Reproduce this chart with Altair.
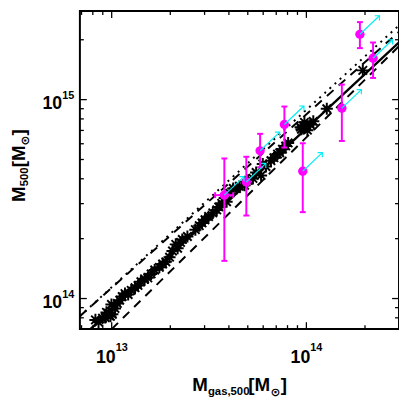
import altair as alt
import pandas as pd

# ---------------- data ----------------
# simulated clusters (black asterisks)
sim_mgas = [8.25e12, 8.56e12, 8.97e12, 9.26e12, 9.40e12, 9.62e12, 9.85e12, 1.008e13, 9.97e12, 1.04e13,
            1.069e13, 1.10e13, 1.132e13, 1.17e13, 1.215e13, 1.26e13, 1.318e13, 1.365e13, 1.413e13, 1.475e13,
            1.533e13, 1.594e13, 1.663e13, 1.757e13, 1.826e13, 1.897e13, 1.982e13, 2.052e13, 2.133e13, 2.181e13,
            2.258e13, 2.305e13, 2.449e13, 2.69e13, 2.817e13, 2.91e13, 3.013e13, 3.146e13, 3.307e13, 3.465e13,
            3.545e13, 3.673e13, 3.804e13, 3.893e13, 4.032e13, 4.21e13, 4.374e13, 4.53e13, 4.817e13, 5.03e13,
            5.313e13, 5.52e13, 5.852e13, 5.97e13, 6.20e13, 6.574e13, 6.81e13, 7.108e13, 7.30e13, 7.534e13,
            7.83e13, 8.06e13, 9.33e13, 9.43e13, 9.77e13, 9.885e13, 1.012e14, 1.047e14, 1.085e14, 1.273e14,
            1.949e14]
sim_m500 = [7.81e13, 7.61e13, 7.96e13, 8.03e13, 8.52e13, 8.43e13, 8.15e13, 8.33e13, 9.34e13, 8.92e13,
            9.45e13, 9.81e13, 1.023e14, 1.059e14, 1.047e14, 1.10e14, 1.134e14, 1.164e14, 1.214e14, 1.256e14,
            1.27e14, 1.33e14, 1.392e14, 1.435e14, 1.491e14, 1.53e14, 1.614e14, 1.734e14, 1.872e14, 1.788e14,
            1.915e14, 1.982e14, 2.051e14, 2.22e14, 2.325e14, 2.40e14, 2.489e14, 2.584e14, 2.696e14, 2.79e14,
            2.887e14, 3.011e14, 3.199e14, 3.066e14, 3.386e14, 3.573e14, 3.573e14, 3.667e14, 3.71e14, 3.928e14,
            4.018e14, 4.302e14, 4.157e14, 4.75e14, 4.607e14, 4.933e14, 5.105e14, 5.324e14, 5.404e14, 5.636e14,
            5.852e14, 6.056e14, 7.27e14, 7.10e14, 7.69e14, 7.35e14, 7.02e14, 7.495e14, 7.78e14, 8.995e14,
            1.403e15]

# observed clusters (magenta) with errors and cyan arrows
obs_mgas = [3.79e13, 4.915e13, 5.785e13, 7.71e13, 9.58e13, 1.521e14, 1.883e14, 2.2e14]
obs_m500 = [3.31e14, 3.852e14, 5.53e14, 7.495e14, 4.366e14, 9.06e14, 2.13e15, 1.614e15]
obs_m500_lo = [1.547e14, 2.614e14, 4.57e14, 5.74e14, 2.718e14, 6.196e14, 1.815e15, 1.285e15]
obs_m500_hi = [5.06e14, 5.16e14, 6.73e14, 9.23e14, 6.035e14, 1.19e15, 2.453e15, 1.937e15]
obs_mgas_lo = [3.398e13]
obs_mgas_hi = [4.21e13]
obs_mgas_err_y = [3.31e14]
arrow_mgas_end = [4.78e13, 6.19e13, 7.29e13, 9.71e13, 1.207e14, 1.916e14, 2.373e14, 2.772e14]
arrow_m500_end = [4.10e14, 4.78e14, 6.86e14, 9.29e14, 5.41e14, 1.123e15, 2.64e15, 2.0e15]

# relations (end points)
solid_x = [7.78e12, 3.013e14]
solid_y = [7.02e13, 1.953e15]
dashlo_x = [1.0e13, 3.013e14]
dashlo_y = [7.02e13, 1.87e15]
dashhi_x = [6.866e12, 3.013e14]
dashhi_y = [8.15e13, 2.208e15]
dot_x = [6.866e12, 3.013e14]
dot_y = [8.15e13, 2.378e15]

# axes
x_domain = [6.866e12, 2.99e14]
y_domain = [7.02e13, 2.79e15]
x_major = [1e13, 1e14]
x_major_exp = ["13", "14"]
x_minor = [7e12, 8e12, 9e12, 2e13, 3e13, 4e13, 5e13, 6e13, 7e13, 8e13, 9e13, 2e14]
y_major = [1e14, 1e15]
y_major_exp = ["14", "15"]
y_minor = [8e13, 9e13, 2e14, 3e14, 4e14, 5e14, 6e14, 7e14, 8e14, 9e14, 2e15]

W, H = 324, 323
FONT = "Liberation Sans"

xs = alt.Scale(type="log", domain=x_domain, nice=False)
ys = alt.Scale(type="log", domain=y_domain, nice=False)

def X(f):
    return alt.X(f, type="quantitative", scale=xs, axis=None)

def Y(f):
    return alt.Y(f, type="quantitative", scale=ys, axis=None)

layers = []

# relation lines
def rel(xv, yv, **kw):
    df = pd.DataFrame({"x": xv, "y": yv})
    return alt.Chart(df).mark_line(clip=True, color="black", **kw).encode(x=X("x"), y=Y("y"))

layers.append(rel(dot_x, dot_y, strokeWidth=2, strokeDash=[2, 5]))
layers.append(rel(dashhi_x, dashhi_y, strokeWidth=2, strokeDash=[9, 7]))
layers.append(rel(dashlo_x, dashlo_y, strokeWidth=2, strokeDash=[9, 7]))
layers.append(rel(solid_x, solid_y, strokeWidth=2.5))

# simulated asterisks
sim = pd.DataFrame({"x": sim_mgas, "y": sim_m500})
star = "M -1 0 L 1 0 M 0 -1 L 0 1 M -0.7 -0.7 L 0.7 0.7 M -0.7 0.7 L 0.7 -0.7"
layers.append(alt.Chart(sim).mark_point(shape=star, filled=False, color="black", strokeWidth=2,
                                         size=150, opacity=1, clip=True).encode(x=X("x"), y=Y("y")))

# observed points
obs = pd.DataFrame({"x": obs_mgas, "y": obs_m500, "lo": obs_m500_lo, "hi": obs_m500_hi,
                    "ax": arrow_mgas_end, "ay": arrow_m500_end})
MAG = "#ff00ff"
CYN = "#00eef5"
layers.append(alt.Chart(obs).mark_rule(color=MAG, strokeWidth=2).encode(x=X("x"), y=Y("lo"), y2="hi"))
layers.append(alt.Chart(obs).mark_tick(color=MAG, orient="horizontal", size=6, thickness=2, opacity=1)
              .encode(x=X("x"), y=Y("lo")))
layers.append(alt.Chart(obs).mark_tick(color=MAG, orient="horizontal", size=6, thickness=2, opacity=1)
              .encode(x=X("x"), y=Y("hi")))
xe = pd.DataFrame({"lo": obs_mgas_lo, "hi": obs_mgas_hi, "y": obs_mgas_err_y})
layers.append(alt.Chart(xe).mark_rule(color=MAG, strokeWidth=2).encode(x=X("lo"), x2="hi", y=Y("y")))
layers.append(alt.Chart(xe).mark_tick(color=MAG, orient="vertical", size=6, thickness=2, opacity=1)
              .encode(x=X("lo"), y=Y("y")))
layers.append(alt.Chart(xe).mark_tick(color=MAG, orient="vertical", size=6, thickness=2, opacity=1)
              .encode(x=X("hi"), y=Y("y")))
layers.append(alt.Chart(obs).mark_point(shape="circle", filled=True, color=MAG, size=90, opacity=1)
              .encode(x=X("x"), y=Y("y")))
layers.append(alt.Chart(obs).mark_rule(color=CYN, strokeWidth=1.2).encode(x=X("x"), y=Y("y"), x2="ax", y2="ay"))
layers.append(alt.Chart(obs).mark_point(shape="M -1 1 L 0 0 L 1 1", filled=False, color=CYN, strokeWidth=1.2,
                                         size=45, angle=45, opacity=1).encode(x=X("ax"), y=Y("ay")))

# ticks (inward, all four sides)
def xticks(vals, ln):
    df = pd.DataFrame({"v": vals})
    b = alt.Chart(df).mark_rule(color="black", strokeWidth=1.3).encode(x=X("v"), y=alt.value(H), y2=alt.value(H - ln))
    t = alt.Chart(df).mark_rule(color="black", strokeWidth=1.3).encode(x=X("v"), y=alt.value(0), y2=alt.value(ln))
    return [b, t]

def yticks(vals, ln):
    df = pd.DataFrame({"v": vals})
    l = alt.Chart(df).mark_rule(color="black", strokeWidth=1.3).encode(y=Y("v"), x=alt.value(0), x2=alt.value(ln))
    r = alt.Chart(df).mark_rule(color="black", strokeWidth=1.3).encode(y=Y("v"), x=alt.value(W), x2=alt.value(W - ln))
    return [l, r]

layers += xticks(x_major, 7) + xticks(x_minor, 4) + yticks(y_major, 7) + yticks(y_minor, 4)

# tick labels
xl = pd.DataFrame({"v": x_major, "e": x_major_exp, "b": ["10", "10"]})
layers.append(alt.Chart(xl).mark_text(align="right", baseline="alphabetic", font=FONT, fontSize=18,
                                      fontWeight="bold", dx=4, color="black")
              .encode(x=X("v"), y=alt.value(357), text="b:N"))
layers.append(alt.Chart(xl).mark_text(align="left", baseline="alphabetic", font=FONT, fontSize=11,
                                      fontWeight="bold", dx=4, color="black")
              .encode(x=X("v"), y=alt.value(345), text="e:N"))
yl = pd.DataFrame({"v": y_major, "e": y_major_exp, "b": ["10", "10"]})
layers.append(alt.Chart(yl).mark_text(align="right", baseline="alphabetic", font=FONT, fontSize=18,
                                      fontWeight="bold", dy=10, color="black")
              .encode(y=Y("v"), x=alt.value(-18), text="b:N"))
layers.append(alt.Chart(yl).mark_text(align="left", baseline="alphabetic", font=FONT, fontSize=11,
                                      fontWeight="bold", dy=-1, color="black")
              .encode(y=Y("v"), x=alt.value(-18), text="e:N"))

# axis titles built from pieces
def piece(txt, x, y, size, angle=0, font=FONT):
    df = pd.DataFrame({"t": [txt]})
    kw = dict(align="left", baseline="alphabetic", font=font, fontSize=size, fontWeight="bold", color="black")
    if angle:
        kw["angle"] = angle
    return alt.Chart(df).mark_text(**kw).encode(x=alt.value(x), y=alt.value(y), text="t:N")

layers += [
    piece("M", 114, 386, 19),
    piece("gas,500", 130, 390, 11.5),
    piece("[M", 171, 386, 19),
    piece("\u2299", 193.5, 391, 12, font="DejaVu Sans"),
    piece("]", 204, 386, 19),
    piece("M", -56, 194, 19, 270),
    piece("500", -52.5, 178, 11.5, 270),
    piece("[M", -56, 158.7, 19, 270),
    piece("\u2299", -52, 136.5, 12, 270, font="DejaVu Sans"),
    piece("]", -56, 126.5, 19, 270),
]

chart = alt.layer(*layers).properties(
    width=W, height=H,
    autosize=alt.AutoSizeParams(type="none"),
    padding={"left": 73, "top": 0, "right": 0, "bottom": 72},
).configure_view(stroke="black", strokeWidth=2)

chart.save("out.html", embed_options={"renderer": "svg", "actions": False})
